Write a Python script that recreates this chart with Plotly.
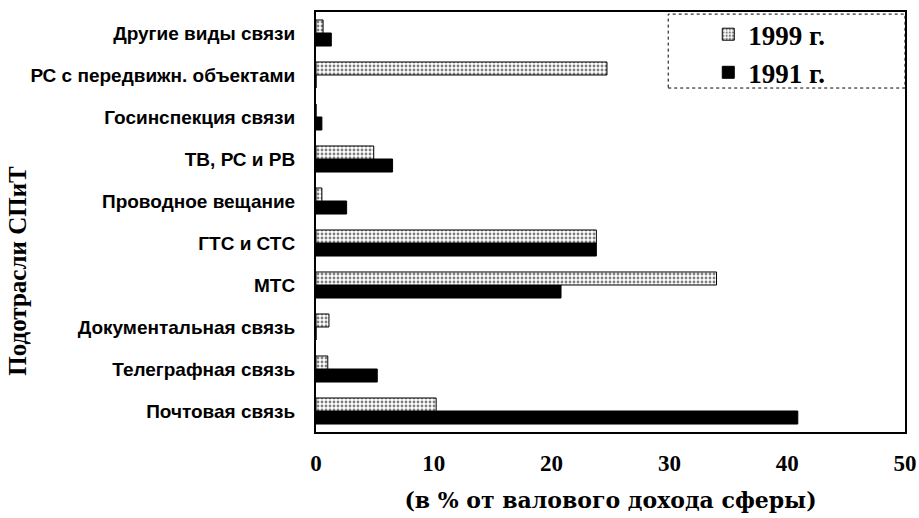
import plotly.graph_objects as go

categories = ["Почтовая связь", "Телеграфная связь", "Документальная связь", "МТС",
              "ГТС и СТС", "Проводное вещание", "ТВ, РС и РВ", "Госинспекция связи",
              "РС с передвижн. объектами", "Другие виды связи"]
values_1999 = [10.2, 1.0, 1.1, 34.0, 23.8, 0.5, 4.9, 0.0, 24.7, 0.6]
values_1991 = [40.9, 5.2, 0.0, 20.8, 23.8, 2.6, 6.5, 0.5, 0.0, 1.3]
x_ticks = [0, 10, 20, 30, 40, 50]

serif = "Liberation Serif"
sans = "Liberation Sans"

fig = go.Figure()
fig.add_trace(go.Bar(
    y=categories, x=values_1991, orientation="h", name="1991 г.",
    marker=dict(color="black", line=dict(color="black", width=1)),
))
fig.add_trace(go.Bar(
    y=categories, x=values_1999, orientation="h", name="1999 г.",
    marker=dict(color="white", line=dict(color="black", width=1),
                pattern=dict(shape=".", fgcolor="black", bgcolor="white",
                             size=4, solidity=0.4)),
))

fig.update_layout(
    width=919, height=518,
    margin=dict(l=316, r=14, t=11, b=86),
    paper_bgcolor="white", plot_bgcolor="white",
    barmode="group", bargap=0.38, bargroupgap=0.0,
    showlegend=True,
    legend=dict(x=0.666, y=1.002, xanchor="left", yanchor="top",
                traceorder="reversed", bgcolor="rgba(0,0,0,0)",
                font=dict(family=serif, size=27, color="black", weight="bold"),
                itemwidth=30, tracegroupgap=0),
    xaxis=dict(range=[0, 50], tickvals=x_ticks, ticks="", showgrid=False,
               zeroline=False, showline=True, linecolor="black", linewidth=2,
               mirror=True, automargin=False, ticklabelstandoff=9,
               tickfont=dict(family=serif, size=23, color="black", weight="bold"),
               title=dict(text="<b>(в % от валового дохода сферы)</b>",
                          font=dict(family="DejaVu Serif", size=22, color="black"),
                          standoff=18)),
    yaxis=dict(categoryorder="array", categoryarray=categories, ticks="",
               showgrid=False, zeroline=False, showline=True, linecolor="black",
               linewidth=2, mirror=True, ticklabelstandoff=15, automargin=False,
               tickfont=dict(family=sans, size=19, color="black", weight="bold")),
    shapes=[dict(type="rect", xref="paper", yref="paper",
                 x0=0.598, x1=1.0, y0=0.819, y1=0.995,
                 line=dict(color="black", width=1, dash="dot"))],
    annotations=[dict(text="<b>Подотрасли СПиТ</b>", xref="paper", yref="paper",
                      x=-0.507, y=0.385, xanchor="center", yanchor="middle",
                      textangle=-90, showarrow=False,
                      font=dict(family=serif, size=25, color="black"))],
)

fig.write_html("out.html", config={"displayModeBar": False},
               post_script="document.body.style.margin='0';")
